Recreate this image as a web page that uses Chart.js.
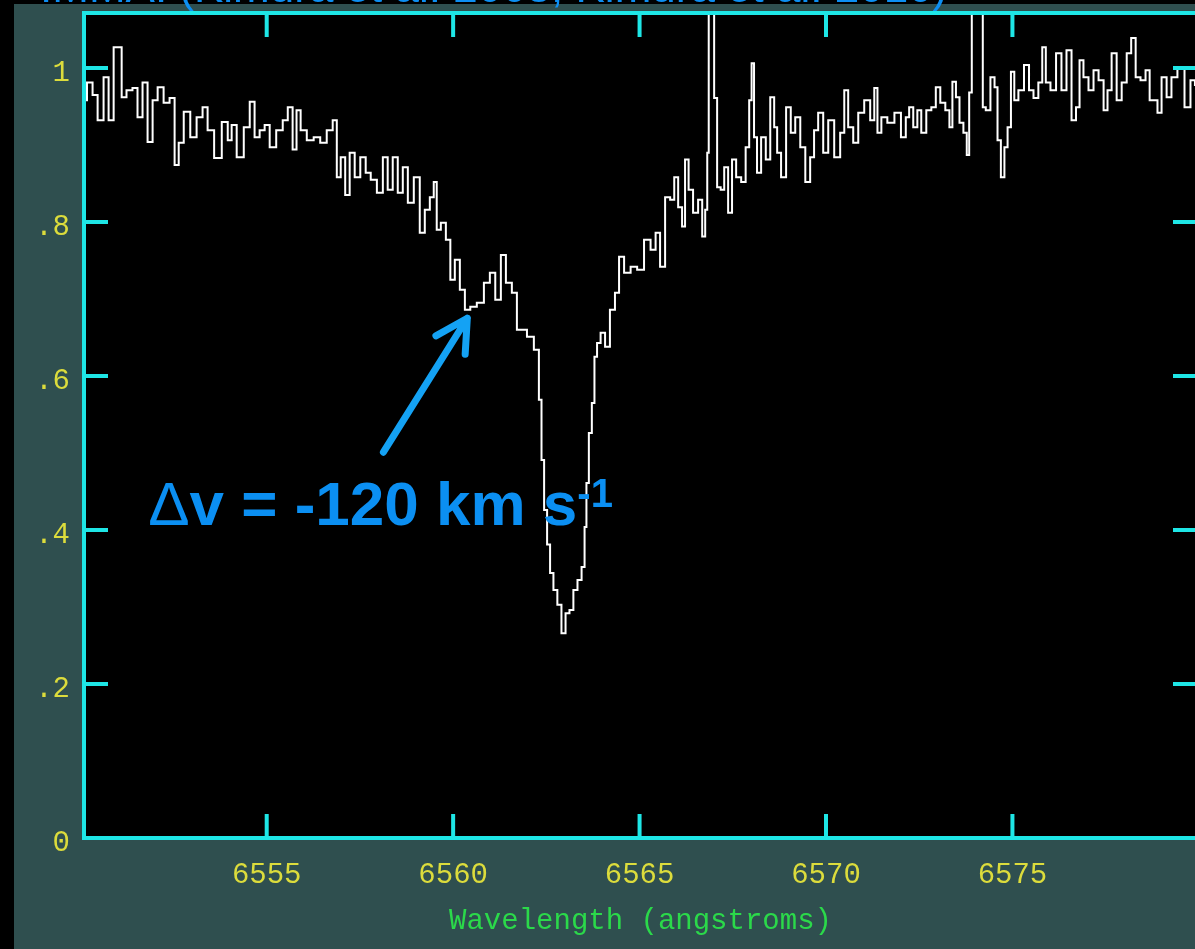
<!DOCTYPE html>
<html>
<head>
<meta charset="utf-8">
<script src="https://cdn.jsdelivr.net/npm/chart.js@4.4.1/dist/chart.umd.min.js"></script>
<style>
  html, body { margin: 0; padding: 0; background: #000; overflow: hidden; width: 1195px; height: 949px; }
  #panel { position: absolute; left: 14px; top: 4px; width: 1200px; height: 960px; background: #2f4f4f; }
  #wrap { position: absolute; left: 0; top: 0; width: 1210px; height: 949px; }
  #slideTitle { position: absolute; left: 40px; top: -38px; font: 44px "Liberation Sans", Arial, sans-serif;
                color: #0d8ff2; white-space: nowrap; }
</style>
</head>
<body>
<div id="panel"></div>
<div id="wrap"><canvas id="spectrum"></canvas></div>
<div id="slideTitle">IMMA: (Kimura et al. 2008, Kimura et al. 2010)</div>
<script>
// wavelength (angstroms) of each sample
const wavelengths = [
  6550.10, 6550.26, 6550.40, 6550.53, 6550.72, 6550.80, 6550.99, 6551.07, 6551.15, 6551.33,
  6551.47, 6551.60, 6551.74, 6551.87, 6552.01, 6552.14, 6552.33, 6552.46, 6552.60, 6552.68,
  6552.87, 6553.03, 6553.21, 6553.35, 6553.48, 6553.70, 6553.89, 6554.02, 6554.10, 6554.29,
  6554.48, 6554.61, 6554.74, 6554.88, 6555.01, 6555.15, 6555.36, 6555.50, 6555.63, 6555.76,
  6555.84, 6555.98, 6556.17, 6556.35, 6556.52, 6556.70, 6556.84, 6556.92, 6557.05, 6557.16,
  6557.29, 6557.43, 6557.59, 6557.72, 6557.86, 6558.05, 6558.18, 6558.31, 6558.45, 6558.58,
  6558.72, 6558.85, 6559.04, 6559.17, 6559.31, 6559.44, 6559.52, 6559.60, 6559.74, 6559.87,
  6559.98, 6560.11, 6560.25, 6560.38, 6560.54, 6560.73, 6560.92, 6561.05, 6561.21, 6561.35,
  6561.48, 6561.67, 6561.75, 6561.89, 6562.07, 6562.26, 6562.34, 6562.40, 6562.48, 6562.56,
  6562.64, 6562.74, 6562.85, 6562.96, 6563.07, 6563.17, 6563.28, 6563.39, 6563.50, 6563.55,
  6563.60, 6563.68, 6563.76, 6563.82, 6563.90, 6564.01, 6564.14, 6564.27, 6564.41, 6564.49,
  6564.68, 6564.84, 6565.03, 6565.21, 6565.38, 6565.48, 6565.62, 6565.75, 6565.89, 6565.97,
  6566.10, 6566.18, 6566.26, 6566.37, 6566.50, 6566.64, 6566.72, 6566.80, 6566.83, 6566.88,
  6566.96, 6567.04, 6567.12, 6567.23, 6567.31, 6567.44, 6567.52, 6567.66, 6567.79, 6567.90,
  6567.98, 6568.03, 6568.11, 6568.19, 6568.33, 6568.44, 6568.57, 6568.65, 6568.73, 6568.86,
  6569.00, 6569.11, 6569.24, 6569.38, 6569.51, 6569.64, 6569.72, 6569.86, 6569.99, 6570.13,
  6570.31, 6570.45, 6570.53, 6570.66, 6570.80, 6570.93, 6571.12, 6571.25, 6571.34, 6571.42,
  6571.55, 6571.74, 6571.93, 6572.09, 6572.19, 6572.27, 6572.41, 6572.49, 6572.62, 6572.76,
  6572.89, 6573.00, 6573.13, 6573.27, 6573.35, 6573.43, 6573.54, 6573.62, 6573.75, 6573.80,
  6573.88, 6573.94, 6574.07, 6574.18, 6574.23, 6574.34, 6574.48, 6574.56, 6574.64, 6574.74,
  6574.83, 6574.91, 6575.01, 6575.09, 6575.23, 6575.39, 6575.50, 6575.63, 6575.76, 6575.84,
  6575.95, 6576.09, 6576.25, 6576.38, 6576.52, 6576.65, 6576.76, 6576.84, 6576.97, 6577.11,
  6577.24, 6577.38, 6577.51, 6577.59, 6577.73, 6577.86, 6578.00, 6578.13, 6578.24, 6578.37,
  6578.50, 6578.64, 6578.72, 6578.85, 6578.93, 6579.07, 6579.20, 6579.33, 6579.52, 6579.71,
  6579.84, 6579.95
];

// normalised flux at each wavelength (the two emission spikes run off the top)
const flux = [
  0.958, 0.981, 0.965, 0.932, 0.988, 0.932, 1.027, 1.027, 0.962, 0.971,
  0.974, 0.936, 0.981, 0.904, 0.958, 0.975, 0.955, 0.961, 0.874, 0.903,
  0.943, 0.910, 0.936, 0.949, 0.919, 0.883, 0.930, 0.906, 0.926, 0.884,
  0.923, 0.956, 0.910, 0.919, 0.926, 0.897, 0.919, 0.932, 0.949, 0.894,
  0.945, 0.919, 0.906, 0.910, 0.903, 0.919, 0.932, 0.858, 0.884, 0.835,
  0.890, 0.858, 0.884, 0.864, 0.855, 0.838, 0.884, 0.842, 0.884, 0.838,
  0.871, 0.825, 0.858, 0.786, 0.816, 0.832, 0.852, 0.790, 0.799, 0.777,
  0.725, 0.751, 0.712, 0.686, 0.690, 0.695, 0.721, 0.734, 0.699, 0.757,
  0.721, 0.708, 0.660, 0.660, 0.651, 0.634, 0.569, 0.491, 0.426, 0.381,
  0.344, 0.322, 0.303, 0.266, 0.292, 0.296, 0.322, 0.335, 0.352, 0.404,
  0.461, 0.526, 0.565, 0.625, 0.643, 0.656, 0.638, 0.686, 0.708, 0.755,
  0.734, 0.742, 0.738, 0.777, 0.764, 0.786, 0.742, 0.832, 0.829, 0.858,
  0.819, 0.794, 0.881, 0.842, 0.812, 0.829, 0.781, 0.816, 0.890, 1.25,
  1.25, 0.961, 0.845, 0.842, 0.871, 0.812, 0.881, 0.858, 0.852, 0.897,
  0.958, 1.006, 0.910, 0.864, 0.910, 0.881, 0.962, 0.923, 0.890, 0.858,
  0.949, 0.916, 0.936, 0.897, 0.852, 0.884, 0.919, 0.942, 0.890, 0.932,
  0.884, 0.916, 0.971, 0.923, 0.903, 0.942, 0.958, 0.932, 0.974, 0.916,
  0.936, 0.929, 0.942, 0.910, 0.936, 0.949, 0.923, 0.945, 0.916, 0.945,
  0.949, 0.975, 0.955, 0.945, 0.923, 0.982, 0.962, 0.929, 0.916, 0.887,
  0.968, 1.30, 1.30, 1.30, 0.949, 0.945, 0.988, 0.975, 0.906, 0.858,
  0.897, 0.923, 0.995, 0.958, 0.971, 1.004, 0.971, 0.961, 0.981, 1.027,
  0.981, 0.971, 1.019, 0.971, 1.023, 0.932, 0.949, 1.010, 0.988, 0.971,
  0.997, 0.984, 0.945, 0.971, 1.019, 0.958, 0.981, 1.019, 1.039, 0.988,
  0.984, 0.997, 0.958, 0.958, 0.942, 0.988, 0.962, 0.988, 1.000, 0.949,
  0.984, 0.978
];

const xTicks = [6555, 6560, 6565, 6570, 6575];
const yTicks = [0, 0.2, 0.4, 0.6, 0.8, 1];
const yTickLabels = ["0", ".2", ".4", ".6", ".8", "1"];

// annotation: label and arrow pointing at the blue-shifted absorption
const noteLabelAt = [6551.82, 0.406];
const arrowTail = [6558.13, 0.501];
const arrowTip = [6560.38, 0.675];

const CYAN = "#1ee6e6";
const YELLOW = "#dcdc3c";
const GREEN = "#2bd94a";
const MONO = '"Liberation Mono", "DejaVu Sans Mono", monospace';

// black plot area, cyan frame with inward ticks on all four sides
const framePlugin = {
  id: "frame",
  beforeDatasetsDraw(chart) {
    const { ctx, chartArea: a } = chart;
    ctx.save();
    ctx.fillStyle = "#000";
    ctx.fillRect(a.left, a.top, a.right - a.left, a.bottom - a.top);
    ctx.restore();
  },
  afterDatasetsDraw(chart) {
    const { ctx, chartArea: a, scales: { x, y } } = chart;
    const len = 24;
    ctx.save();
    ctx.strokeStyle = CYAN;
    ctx.lineWidth = 4;
    ctx.strokeRect(a.left, a.top, a.right - a.left, a.bottom - a.top);
    ctx.beginPath();
    xTicks.forEach(v => {
      const px = x.getPixelForValue(v);
      ctx.moveTo(px, a.bottom); ctx.lineTo(px, a.bottom - len);
      ctx.moveTo(px, a.top); ctx.lineTo(px, a.top + len);
    });
    yTicks.slice(1).forEach(v => {
      const py = y.getPixelForValue(v);
      ctx.moveTo(a.left, py); ctx.lineTo(a.left + len, py);
      ctx.moveTo(a.right, py); ctx.lineTo(a.right - len, py);
    });
    ctx.stroke();
    ctx.restore();
  }
};

const notePlugin = {
  id: "note",
  afterDraw(chart) {
    const { ctx, scales: { x, y } } = chart;
    const blue = "#0b8ff2";
    ctx.save();
    // arrow
    const tx = x.getPixelForValue(arrowTip[0]), ty = y.getPixelForValue(arrowTip[1]);
    const sx = x.getPixelForValue(arrowTail[0]), sy = y.getPixelForValue(arrowTail[1]);
    const ang = Math.atan2(ty - sy, tx - sx);
    ctx.strokeStyle = "#14a2f4";
    ctx.lineWidth = 7;
    ctx.lineCap = "round";
    ctx.lineJoin = "round";
    ctx.beginPath();
    ctx.moveTo(sx, sy); ctx.lineTo(tx, ty);
    ctx.moveTo(tx - 36 * Math.cos(ang - 0.5), ty - 36 * Math.sin(ang - 0.5));
    ctx.lineTo(tx, ty);
    ctx.lineTo(tx - 36 * Math.cos(ang + 0.5), ty - 36 * Math.sin(ang + 0.5));
    ctx.stroke();

    // label
    let lx = x.getPixelForValue(noteLabelAt[0]);
    const ly = y.getPixelForValue(noteLabelAt[1]);
    ctx.fillStyle = blue;
    ctx.textBaseline = "alphabetic";
    ctx.textAlign = "left";
    ctx.font = '62px "Liberation Sans", Arial, sans-serif';
    ctx.fillText("\u0394", lx, ly);
    lx += ctx.measureText("\u0394").width;
    ctx.font = 'bold 62px "Liberation Sans", Arial, sans-serif';
    const main = "v = -120 km s";
    ctx.fillText(main, lx, ly);
    lx += ctx.measureText(main).width;
    ctx.font = 'bold 40px "Liberation Sans", Arial, sans-serif';
    ctx.fillText("-1", lx, ly - 18);
    ctx.restore();
  }
};

const points = wavelengths.map((w, i) => ({ x: w, y: flux[i] }));

new Chart(document.getElementById("spectrum"), {
  type: "line",
  data: {
    datasets: [{
      data: points,
      borderColor: "#ffffff",
      borderWidth: 2,
      pointRadius: 0,
      stepped: "middle",
      fill: false
    }]
  },
  options: {
    responsive: true,
    maintainAspectRatio: false,
    animation: false,
    layout: { padding: { top: 13, right: 13, left: 0, bottom: 0 } },
    plugins: { legend: { display: false }, tooltip: { enabled: false } },
    scales: {
      x: {
        type: "linear",
        min: 6550.1,
        max: 6579.95,
        grid: { display: false, drawTicks: false },
        border: { display: false },
        afterBuildTicks: s => { s.ticks = xTicks.map(v => ({ value: v })); },
        afterFit: s => { s.height = 111; s.paddingLeft = 0; s.paddingRight = 0; },
        ticks: {
          color: YELLOW,
          font: { family: MONO, size: 29 },
          padding: 20,
          maxRotation: 0,
          callback: v => String(v)
        },
        title: {
          display: true,
          text: "Wavelength (angstroms)",
          color: GREEN,
          font: { family: MONO, size: 29 },
          padding: { top: 0, bottom: 10 }
        }
      },
      y: {
        type: "linear",
        min: 0,
        max: 1.0714,
        grid: { display: false, drawTicks: false },
        border: { display: false },
        afterBuildTicks: s => { s.ticks = yTicks.map(v => ({ value: v })); },
        afterFit: s => { s.width = 84; s.paddingTop = 0; s.paddingBottom = 0; },
        ticks: {
          color: YELLOW,
          font: { family: MONO, size: 29 },
          padding: 14,
          labelOffset: 5,
          callback: (v, i) => yTickLabels[i]
        }
      }
    }
  },
  plugins: [framePlugin, notePlugin]
});
</script>
</body>
</html>
